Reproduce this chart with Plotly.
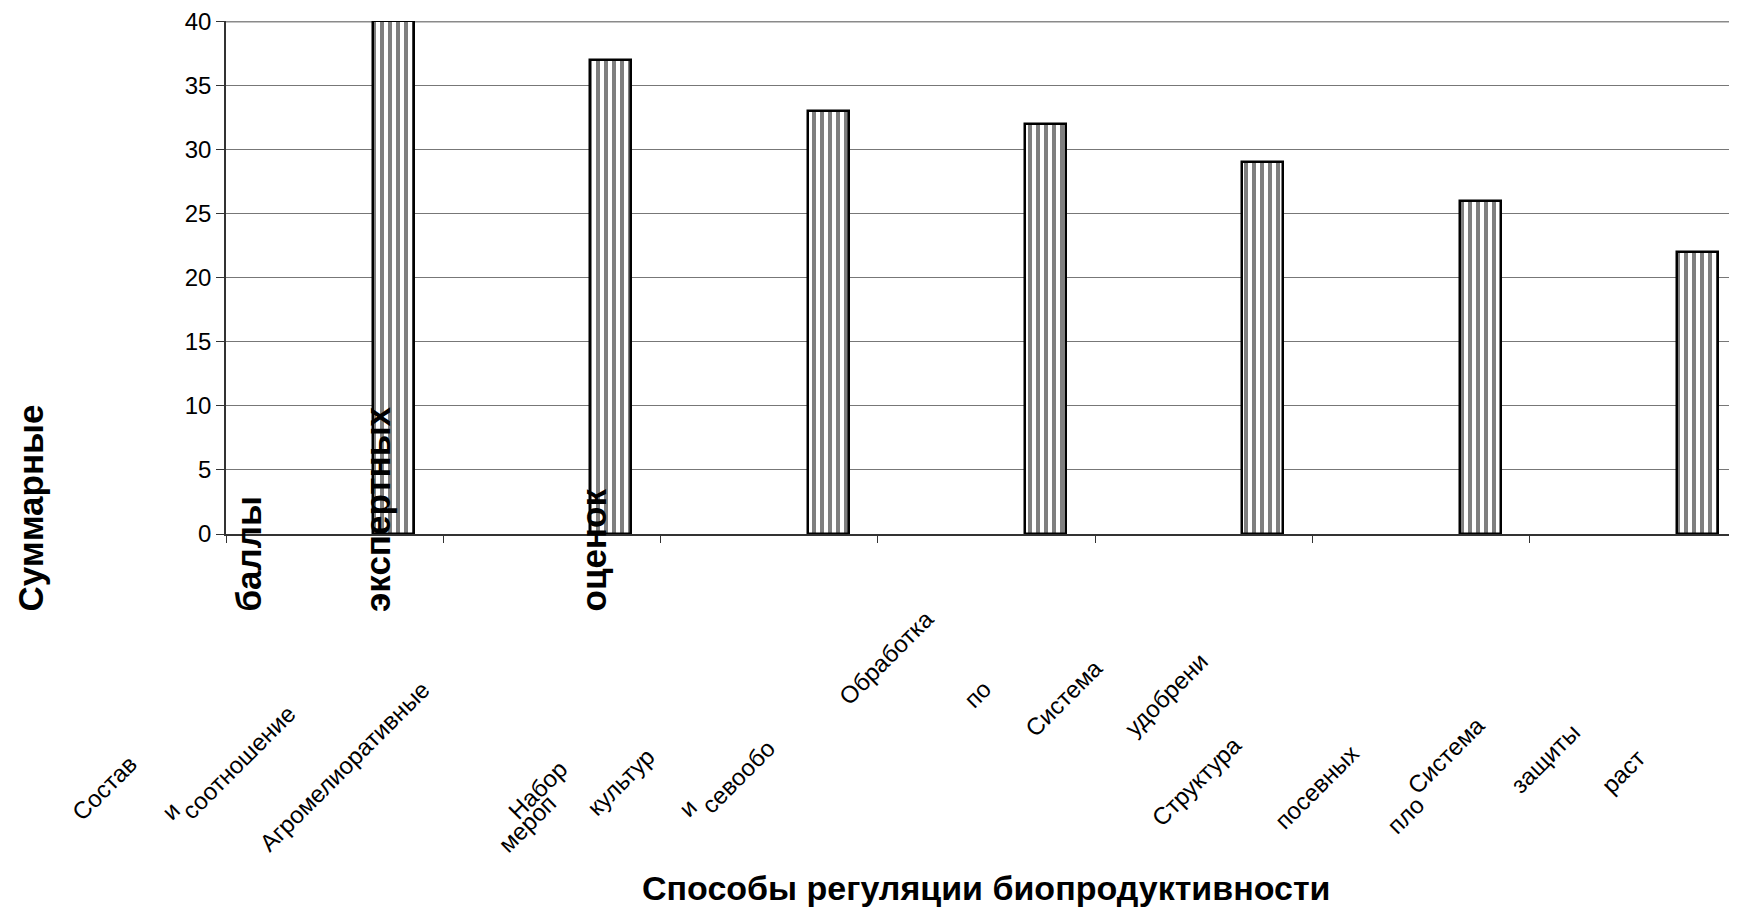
import plotly.graph_objects as go

# ---------------- data ----------------
categories = [
    "Состав и соотношение угодий",
    "Агромелиоративные мероприятия",
    "Набор культур и севооборот",
    "Обработка почвы",
    "Система удобрения",
    "Структура посевных площадей",
    "Система защиты растений",
]
scores = [40, 37, 33, 32, 29, 26, 22]
y_tick_values = [0, 5, 10, 15, 20, 25, 30, 35, 40]

# category label words as they appear (fragmented) under the axis
label_fragments = [
    "Состав", "и", "соотношение", "Агромелиоративные",
    "Набор", "мероп", "культур", "и", "севообо",
    "Обработка", "по", "Система", "удобрени",
    "Структура", "посевных", "пло", "Система", "защиты", "раст",
]
y_title_words = ["Суммарные", "баллы", "экспертных", "оценок"]
x_title = "Способы регуляции биопродуктивности"

# ---------------- layout geometry (page pixels) ----------------
PAGE_OFF = 8            # default body margin of the html page
W, H = 1737, 911
PLOT_L, PLOT_T, PLOT_B = 226, 21, 534   # page pixels
FIG_L, FIG_T, FIG_B = PLOT_L - PAGE_OFF, PLOT_T - PAGE_OFF, PLOT_B - PAGE_OFF
PLOT_W = W - FIG_L
PLOT_H = FIG_B - FIG_T
CAT_PX = 217.3
Y_MAX = 40.03

fragment_centers = [
    (105, 788), (170, 811), (238, 762), (344, 766),
    (537, 790), (527, 823), (620, 782), (687, 808), (738, 776),
    (886, 657), (977, 694), (1063, 698), (1166, 694),
    (1196, 781), (1316, 787), (1405, 815), (1446, 756), (1545, 758), (1623, 771),
]
y_word_x = [30, 248, 377, 593]
y_word_bottom = 614
x_title_center = (986, 888)

FONT = "Liberation Sans, Arial, sans-serif"


def px_to_paper(px, py):
    fx, fy = px - PAGE_OFF, py - PAGE_OFF
    return (fx - FIG_L) / PLOT_W, (FIG_B - fy) / PLOT_H


fig = go.Figure()
fig.add_trace(go.Bar(
    x=categories,
    y=scores,
    width=0.189,
    offset=0.1765,
    marker=dict(
        color="white",
        line=dict(color="black", width=2.5),
        pattern=dict(shape="|", fgcolor="black", bgcolor="white", size=8, solidity=0.5),
    ),
    showlegend=False,
))

annotations = []
for text, (cx, cy) in zip(label_fragments, fragment_centers):
    xp, yp = px_to_paper(cx, cy)
    annotations.append(dict(
        text=text, x=xp, y=yp, xref="paper", yref="paper",
        xanchor="center", yanchor="middle", textangle=-45, showarrow=False,
        font=dict(family=FONT, size=24, color="black"),
    ))

for word, wx in zip(y_title_words, y_word_x):
    xp, yp = px_to_paper(wx, y_word_bottom)
    annotations.append(dict(
        text=f"<b>{word}</b>", x=xp, y=yp, xref="paper", yref="paper",
        xanchor="center", yanchor="bottom", textangle=-90, showarrow=False,
        font=dict(family=FONT, size=35, color="black"),
    ))

xp, yp = px_to_paper(*x_title_center)
annotations.append(dict(
    text=f"<b>{x_title}</b>", x=xp, y=yp, xref="paper", yref="paper",
    xanchor="center", yanchor="middle", showarrow=False,
    font=dict(family=FONT, size=34, color="black"),
))

# top border of the plot area (drawn at the top gridline value)
top_value = max(y_tick_values)
fig.add_shape(type="line", xref="paper", yref="y", x0=0, x1=1, y0=top_value, y1=top_value,
              line=dict(color="#8a8a8a", width=2), layer="below")

fig.update_layout(
    width=W, height=H,
    margin=dict(l=FIG_L, r=0, t=FIG_T, b=H - FIG_B, pad=0),
    paper_bgcolor="white", plot_bgcolor="white",
    font=dict(family=FONT, color="black"),
    bargap=0,
    annotations=annotations,
    xaxis=dict(
        type="category",
        range=[-0.5, -0.5 + PLOT_W / CAT_PX],
        showticklabels=False,
        ticks="outside", tickson="boundaries", ticklen=7, tickwidth=1, tickcolor="#333",
        showline=True, linecolor="#333", linewidth=1.5,
        showgrid=False, zeroline=False,
    ),
    yaxis=dict(
        range=[0, Y_MAX],
        tickvals=y_tick_values,
        ticks="outside", ticklen=8, tickwidth=1, tickcolor="#333",
        tickfont=dict(family=FONT, size=24, color="black"),
        ticklabeloverflow="allow",
        showline=True, linecolor="#333", linewidth=1.5,
        showgrid=True, gridcolor="#777", gridwidth=1,
        zeroline=False,
    ),
)

fig.write_html("out.html")
